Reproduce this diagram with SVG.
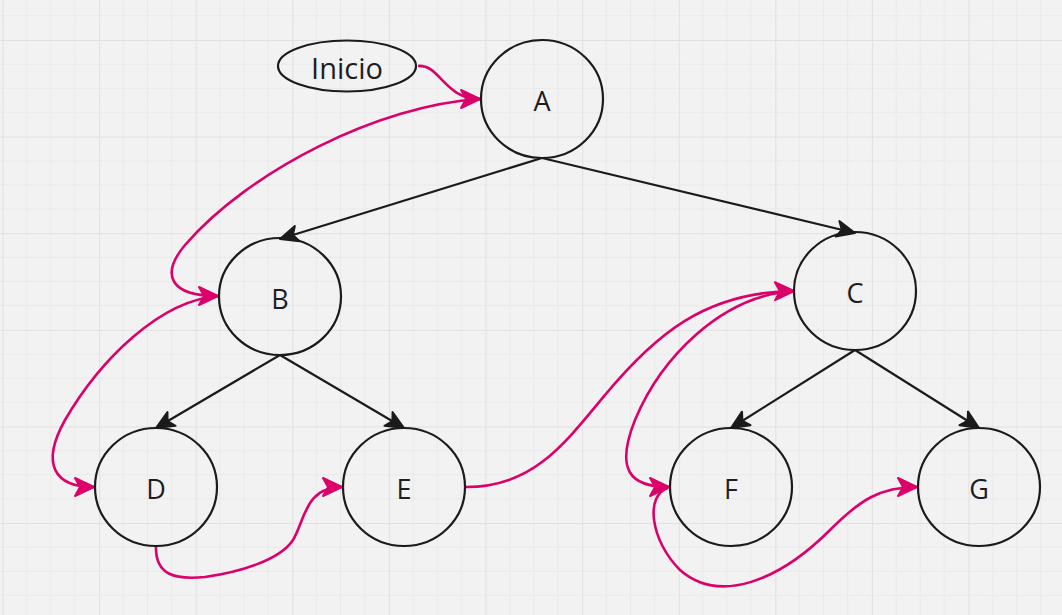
<svg xmlns="http://www.w3.org/2000/svg" width="1062" height="615" viewBox="0 0 1062 615">
<style>
.node{fill:none;stroke:#1b1b1b;stroke-width:2.2}
.lbl{font-family:"Open Sans","Noto Sans",sans-serif;font-size:27px;fill:#1e1e1e;text-anchor:middle;dominant-baseline:central}
.edge{fill:none;stroke:#1b1b1b;stroke-width:2.2;marker-end:url(#ab)}
.trav{fill:none;stroke:#dc006a;stroke-width:2.6;marker-end:url(#ap)}
</style>
<defs>
<pattern id="grid" x="2.5" y="40" width="96.6" height="96.6" patternUnits="userSpaceOnUse">
<path d="M24.15,0V96.6M48.3,0V96.6M72.45,0V96.6M0,24.15H96.6M0,48.3H96.6M0,72.45H96.6" stroke="#e9e9e9" stroke-width="1" fill="none"/>
<path d="M0.5,0V96.6M0,0.5H96.6" stroke="#e1e1e1" stroke-width="1.2" fill="none"/>
</pattern>
<marker id="ap" markerUnits="userSpaceOnUse" markerWidth="40" markerHeight="40" refX="20" refY="10" orient="auto" overflow="visible">
<path d="M20,10 L1,1 L6,10 L1,19 Z" fill="#dc006a" stroke="#dc006a" stroke-width="2" stroke-linejoin="round"/>
</marker>
<marker id="ab" markerUnits="userSpaceOnUse" markerWidth="40" markerHeight="40" refX="19" refY="9" orient="auto" overflow="visible">
<path d="M19,9 L1,1 L5.5,9 L1,17 Z" fill="#1b1b1b" stroke="#1b1b1b" stroke-width="2" stroke-linejoin="round"/>
</marker>
</defs>
<rect width="1062" height="615" fill="#f2f2f2"/>
<rect width="1062" height="615" fill="url(#grid)"/>
<g id="connectors">
<path class="edge" d="M542,158 L280,239"/>
<path class="edge" d="M542,158 L855,233"/>
<path class="edge" d="M280,355 L156,428"/>
<path class="edge" d="M280,355 L404,428"/>
<path class="edge" d="M855,350 L731,428"/>
<path class="edge" d="M855,350 L979,428"/>
<path class="trav" d="M418,66 C440,64 444,99 480,99"/>
<path class="trav" d="M480,99 C380,105 250,170 185,245 C160,275 170,296 218,296"/>
<path class="trav" d="M219,296 C160,300 100,360 65,420 C40,465 55,487 94,487"/>
<path class="trav" d="M156,546 C155,575 175,580 205,577 C240,572 280,560 293,540 C305,520 305,487 342,487"/>
<path class="trav" d="M466,487 C530,487 560,450 605,395 C655,335 705,292 794,291"/>
<path class="trav" d="M795,291 C720,295 660,360 635,420 C615,470 630,487 669,487"/>
<path class="trav" d="M668,488 C645,495 650,540 680,570 C720,605 780,580 830,530 C860,500 880,487 917,487"/>
</g>
<g id="node-inicio"><ellipse class="node" cx="347" cy="66" rx="69" ry="25.5"/><text class="lbl" x="347" y="67" style="font-size:29px">Inicio</text></g>
<g id="node-A"><ellipse class="node" cx="542" cy="99" rx="61" ry="59"/><text class="lbl" x="542" y="100">A</text></g>
<g id="node-B"><ellipse class="node" cx="280" cy="296.5" rx="61" ry="58.5"/><text class="lbl" x="280" y="298">B</text></g>
<g id="node-C"><ellipse class="node" cx="855" cy="291" rx="61" ry="59"/><text class="lbl" x="855" y="292">C</text></g>
<g id="node-D"><ellipse class="node" cx="156" cy="487" rx="61" ry="59"/><text class="lbl" x="156" y="488">D</text></g>
<g id="node-E"><ellipse class="node" cx="404" cy="487" rx="61" ry="59"/><text class="lbl" x="404" y="488">E</text></g>
<g id="node-F"><ellipse class="node" cx="731" cy="487" rx="61" ry="59"/><text class="lbl" x="731" y="488">F</text></g>
<g id="node-G"><ellipse class="node" cx="979" cy="487" rx="61" ry="59"/><text class="lbl" x="979" y="488">G</text></g>
</svg>
